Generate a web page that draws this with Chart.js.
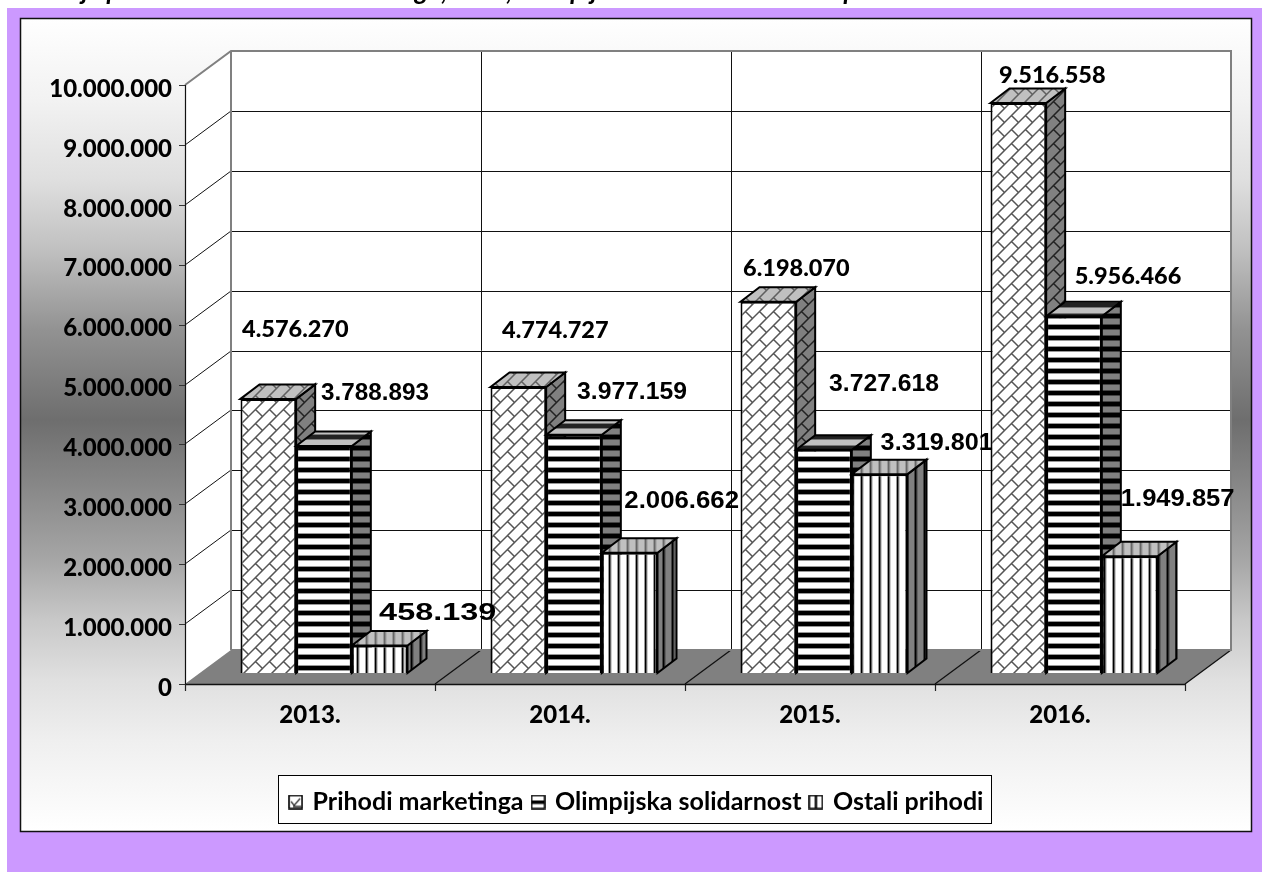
<!DOCTYPE html>
<html><head><meta charset="utf-8">
<style>html,body{margin:0;padding:0;background:#fff;overflow:hidden}#w{position:absolute;left:0;top:0;width:1262px;height:872px}</style>
<script src="https://cdn.jsdelivr.net/npm/chart.js@4"></script>
</head><body><div id="w"><canvas id="c" width="1262" height="872"></canvas></div>
<script>
const categories = ['2013.', '2014.', '2015.', '2016.'];
const seriesNames = ['Prihodi marketinga', 'Olimpijska solidarnost', 'Ostali prihodi'];
const prihodiMarketinga = [4576270, 4774727, 6198070, 9516558];
const olimpijskaSolidarnost = [3788893, 3977159, 3727618, 5956466];
const ostaliPrihodi = [458139, 2006662, 3319801, 1949857];
const titleText = 'Kretanje prihoda MOK-a od marketinga, TV-a, Olimpijska solidarnost i ostali prihodi od 2013. do 2016.';

// label placement relative to the top-centre of each bar
const labelNudges = [
  [[27,-69],[37,-57],[28,-33],[34,-28]],
  [[51,-53],[58,-42],[60,-65],[54,-40]],
  [[58,-32],[52,-51],[57,-31],[48,-57]]
];
// horizontal stretch of the label text
const labelStretch = [
  [1,1,1,1],
  [1.01,1.03,1.03,1],
  [1.35,1.075,1.05,1.065]
];
const DEPTH_BACK = {x:32, y:-23}, DEPTH_FRONT = {x:-14, y:11}, BAR = {x:19, y:-14.5};
const fmt = v => String(Math.round(v)).replace(/\B(?=(\d{3})+$)/g,'.');

function tile(w,h,paint){const c=document.createElement('canvas');c.width=w;c.height=h;paint(c.getContext('2d'),w,h);return c;}
function brick(bg,fg){return tile(14,14,(g,w,h)=>{
  g.fillStyle=bg;g.fillRect(0,0,w,h);g.strokeStyle=fg;g.lineWidth=1.5;g.beginPath();
  g.moveTo(-2,9);g.lineTo(9,-2);g.moveTo(5,16);g.lineTo(16,5);g.moveTo(-2,23);g.lineTo(23,-2);
  g.moveTo(3.5,3.5);g.lineTo(10.5,10.5);g.stroke();});}
function hstripe(bg,fg,mid){return tile(4,11,(g,w)=>{
  g.fillStyle=bg;g.fillRect(0,0,w,11);g.fillStyle=mid;g.fillRect(0,5,w,1);g.fillRect(0,10,w,1);g.fillStyle=fg;g.fillRect(0,6,w,4);});}
function vstripe(bg,fg,mid){return tile(9,4,(g,w,h)=>{
  g.fillStyle=bg;g.fillRect(0,0,9,h);g.fillStyle=mid;g.fillRect(5,0,1,h);g.fillRect(7.5,0,1,h);g.fillStyle=fg;g.fillRect(6,0,1.5,h);});}
const ctx0=document.getElementById('c').getContext('2d');
const pat=t=>ctx0.createPattern(t,'repeat');
const fronts=[pat(brick('#fff','#555')),pat(hstripe('#fff','#000','#999')),pat(vstripe('#fff','#000','#999'))];
const sides=[pat(brick('#808080','#222')),pat(hstripe('#808080','#000','#444')),pat(vstripe('#808080','#000','#444'))];
const tops=[pat(brick('#c0c0c0','#606060')),pat(hstripe('#c0c0c0','#222','#777')),pat(vstripe('#c0c0c0','#666','#999'))];

function swatch(kind){return tile(15,15,(g)=>{
  g.fillStyle='#fff';g.fillRect(0,0,15,15);g.strokeStyle='#000';g.lineWidth=1.6;g.strokeRect(1,1,13,13);
  g.fillStyle='#000';g.strokeStyle='#333';
  if(kind===0){g.lineWidth=1.3;g.beginPath();g.moveTo(3,7);g.lineTo(6,11);g.lineTo(12,4);g.moveTo(5,12);g.lineTo(13,12);g.stroke();}
  if(kind===1){g.fillRect(1,6,13,3.5);}
  if(kind===2){g.fillRect(6.3,1,2.4,13);}
});}
const swatches=[swatch(0),swatch(1),swatch(2)];

function poly(g,pts,fill,stroke,lw){g.beginPath();pts.forEach((p,i)=>i?g.lineTo(p[0],p[1]):g.moveTo(p[0],p[1]));g.closePath();
  if(fill){g.fillStyle=fill;g.fill();}if(stroke){g.strokeStyle=stroke;g.lineWidth=lw||1;g.stroke();}}
function line(g,x1,y1,x2,y2,c,lw){g.beginPath();g.moveTo(x1,y1);g.lineTo(x2,y2);g.strokeStyle=c;g.lineWidth=lw||1;g.stroke();}

const scene={
  id:'scene',
  beforeDraw(chart){
    const g=chart.ctx;g.save();
    g.fillStyle='#fff';g.fillRect(0,0,1262,872);
    g.fillStyle='#000';g.font='italic bold 26px Lato';g.textBaseline='alphabetic';g.textAlign='left';
    g.fillText(titleText,7,0);
    g.fillStyle='#CC99FF';g.fillRect(7,8,1255,864);
    const gr=g.createLinearGradient(0,18,0,831);
    [[18,'#ffffff'],[100,'#f2f2f2'],[180,'#dfdfdf'],[250,'#c0c0c0'],[330,'#929292'],[420,'#6e6e6e'],[480,'#858585'],[560,'#a6a6a6'],[620,'#c8c8c8'],[680,'#e0e0e0'],[740,'#efefef'],[831,'#ffffff']]
      .forEach(s=>gr.addColorStop((s[0]-18)/813,s[1]));
    g.fillStyle=gr;g.fillRect(20.5,18.5,1231,813);
    g.strokeStyle='#111';g.lineWidth=1.5;g.strokeRect(20.5,18.5,1231,813);
    // legend frame
    g.fillStyle='#fff';g.fillRect(278.5,775.5,713,48);g.strokeStyle='#000';g.lineWidth=1;g.strokeRect(278.5,775.5,713,48);
    g.restore();
  },
  afterLayout(chart){
    const l=chart.legend;l.top=779.5;l.bottom=825;l.left=278;l.right=996.5;
    if(l.adjustHitBoxes)l.adjustHitBoxes();
  },
  beforeDatasetsDraw(chart){
    const g=chart.ctx,x=chart.scales.x,y=chart.scales.y,a=chart.chartArea;g.save();
    const f=DEPTH_FRONT,b=DEPTH_BACK;
    const L=a.left,R=a.right,T=a.top,B=a.bottom;
    // walls
    poly(g,[[L+b.x,T+b.y],[R+b.x,T+b.y],[R+b.x,B+b.y],[L+b.x,B+b.y]],'#fff');
    poly(g,[[L+f.x,T+f.y],[L+b.x,T+b.y],[L+b.x,B+b.y],[L+f.x,B+f.y]],'#fff');
    // floor
    poly(g,[[L+f.x,B+f.y],[R+f.x,B+f.y],[R+b.x,B+b.y],[L+b.x,B+b.y]],'#808080');
    // horizontal grid
    y.ticks.forEach(t=>{const p=Math.round(y.getPixelForValue(t.value));
      if(t.value>0&&t.value<y.max){
        line(g,L+f.x,p+f.y,L+b.x,p+b.y,'#111',1);
        line(g,L+b.x,p+b.y+.5,R+b.x,p+b.y+.5,'#111',1.2);
      }
    });
    // vertical grid + floor diagonals
    categories.forEach((c,i)=>{
      const edge=x.getPixelForTick(i)+(x.getPixelForTick(1)-x.getPixelForTick(0))/2;
      if(i<categories.length-1)line(g,Math.round(edge+b.x)+.5,T+b.y,Math.round(edge+b.x)+.5,B+b.y,'#111',1);
      line(g,edge+f.x,B+f.y,edge+b.x,B+b.y,'#111',1.3);
      line(g,edge+f.x+.5,B+f.y,edge+f.x+.5,B+f.y+7,'#222',1.2);
    });
    // wall edges
    g.lineJoin='miter';
    g.beginPath();g.moveTo(L+f.x,T+f.y);g.lineTo(L+b.x,T+b.y);g.lineTo(R+b.x,T+b.y);g.lineTo(R+b.x,B+b.y);g.lineTo(L+b.x,B+b.y);
    g.moveTo(L+b.x,T+b.y);g.lineTo(L+b.x,B+b.y);g.strokeStyle='#808080';g.lineWidth=2;g.stroke();
    // front axes
    line(g,L+f.x+.5,T+f.y,L+f.x+.5,B+f.y,'#111',1.2);
    line(g,L+f.x,B+f.y+.5,R+f.x,B+f.y+.5,'#111',1.4);
    line(g,L+f.x+.5,B+f.y,L+f.x+.5,B+f.y+7,'#222',1.2);
    y.ticks.forEach(t=>{const p=Math.round(y.getPixelForValue(t.value))+f.y+.5;line(g,L+f.x-6,p,L+f.x,p,'#333',1);});
    // bars, left to right so each covers the previous one's side
    chart.data.datasets.forEach((ds,di)=>{
      chart.getDatasetMeta(di).data.forEach(el=>{
        const p=el.getProps(['x','y','base','width'],true);
        const l=p.x-p.width/2,r=p.x+p.width/2,t=p.y,bt=p.base;
        g.lineJoin='miter';
        poly(g,[[r,t],[r+BAR.x,t+BAR.y],[r+BAR.x,bt+BAR.y],[r,bt]],sides[di],'#000',2);
        poly(g,[[l,t],[l+BAR.x,t+BAR.y],[r+BAR.x,t+BAR.y],[r,t]],tops[di],'#000',2);
        el.draw(g,chart.chartArea);
      });
    });
    g.restore();
    return false;
  },
  afterDraw(chart){
    const g=chart.ctx;g.fillStyle='#000';g.textAlign='center';g.textBaseline='middle';
    chart.data.datasets.forEach((ds,di)=>{
      chart.getDatasetMeta(di).data.forEach((el,i)=>{
        const p=el.getProps(['x','y'],true),n=labelNudges[di][i],s=labelStretch[di][i];
        g.save();
        g.font=(di===0||(di===1&&i===3))?'900 23.5px Lato':'bold 24px "Liberation Sans"';
        g.translate(p.x+n[0],p.y+n[1]);g.scale(s,1);
        g.fillText(fmt(ds.data[i]),0,0);
        g.restore();
      });
    });
  }
};

new Chart(document.getElementById('c'),{
  type:'bar',
  data:{labels:categories,datasets:[
    {label:seriesNames[0],data:prihodiMarketinga,backgroundColor:fronts[0],borderColor:'#000',borderWidth:2},
    {label:seriesNames[1],data:olimpijskaSolidarnost,backgroundColor:fronts[1],borderColor:'#000',borderWidth:2},
    {label:seriesNames[2],data:ostaliPrihodi,backgroundColor:fronts[2],borderColor:'#000',borderWidth:2}
  ]},
  options:{
    responsive:false,animation:false,
    categoryPercentage:0.668,barPercentage:1,
    layout:{autoPadding:false,padding:{left:0,top:74,right:63,bottom:0}},
    plugins:{
      tooltip:{enabled:false},title:{display:false},
      legend:{display:true,position:'bottom',
        labels:{usePointStyle:true,boxWidth:9,boxHeight:9,padding:10,color:'#000',font:{family:'Lato',weight:'bold',size:25},
          generateLabels:ch=>ch.data.datasets.map((d,i)=>({text:d.label,pointStyle:swatches[i],datasetIndex:i,fontColor:'#000',lineWidth:0}))}}
    },
    scales:{
      x:{offset:true,grid:{display:false,drawTicks:false},border:{display:false},
        afterFit:s=>{s.height=872-673-(s.chart.legend?s.chart.legend.height:0);},
        ticks:{color:'#000',padding:28,labelOffset:-14,maxRotation:0,font:{family:'Lato',weight:'900',size:24}}},
      y:{min:0,max:10000000,grid:{display:false,drawTicks:false},border:{display:false},
        afterFit:s=>{s.width=199;},
        ticks:{stepSize:1000000,color:'#000',padding:27,labelOffset:15,callback:v=>fmt(v),font:{family:'Lato',weight:'900',size:24}}}
    }
  },
  plugins:[scene]
});
</script></body></html>
